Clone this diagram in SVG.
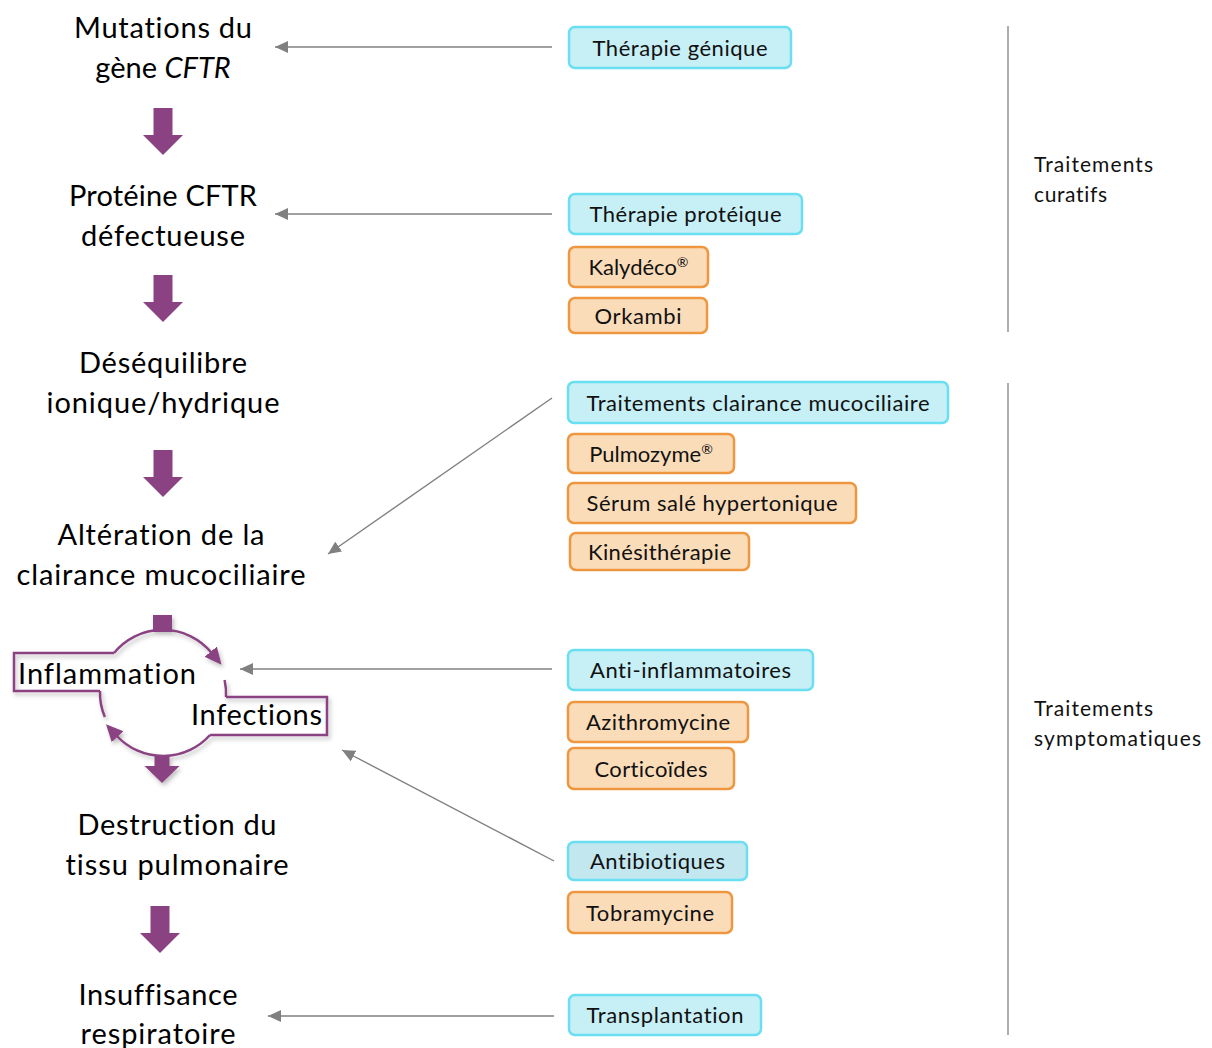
<svg xmlns="http://www.w3.org/2000/svg" width="1212" height="1048" viewBox="0 0 1212 1048">
<style>
text{font-variant-ligatures:none;font-feature-settings:"liga" 0,"dlig" 0}
.main{font-family:Lato,"Liberation Sans",sans-serif;font-size:29px;fill:#000;text-anchor:middle}
.lbl{font-family:Lato,"Liberation Sans",sans-serif;font-size:22px;fill:#111;text-anchor:middle}
.side{font-family:Lato,"Liberation Sans",sans-serif;font-size:21px;fill:#111}
.cyan{fill:#C6EFF6;stroke:#6ADFF2;stroke-width:2.5}
.cyan2{fill:#C3E7EF;stroke:#6ADFF2;stroke-width:2.5}
.orange{fill:#FADCB9;stroke:#EF9640;stroke-width:2.5}
.conn{stroke:#808080;stroke-width:1.4;fill:none;marker-end:url(#gray)}
.cyc{stroke:#8B4282;stroke-width:2.5;fill:none}
.block{fill:#8B4282}
.vline{stroke:#8A8A8A;stroke-width:1.4}
</style>
<defs>
<marker id="gray" markerUnits="userSpaceOnUse" markerWidth="14" markerHeight="12" refX="13" refY="6" orient="auto">
<path d="M0,0 L13,6 L0,12 Z" fill="#808080"/>
</marker>
<marker id="purp" markerUnits="userSpaceOnUse" markerWidth="18" markerHeight="18" refX="1" refY="9" orient="auto">
<path d="M0,1 L17,9 L0,17 Z" fill="#8B4282"/>
</marker>
<path id="barrow" d="M-9.5,0 H9.5 V27 H20 L0,47 L-20,27 H-9.5 Z"/>
<filter id="sh" x="-10%" y="-10%" width="130%" height="130%">
<feDropShadow dx="2" dy="3" stdDeviation="2" flood-color="#000" flood-opacity="0.25"/>
</filter>
</defs>
<rect width="1212" height="1048" fill="#fff"/>

<g id="step-mutations">
<text class="main" x="163" y="38" textLength="178">Mutations du</text>
<text class="main" x="163" y="78">gène <tspan font-style="italic">CFTR</tspan></text>
</g>
<g id="step-proteine">
<text class="main" x="163" y="206" textLength="188">Protéine CFTR</text>
<text class="main" x="163" y="246" textLength="164">défectueuse</text>
</g>
<g id="step-desequilibre">
<text class="main" x="163" y="373" textLength="168">Déséquilibre</text>
<text class="main" x="163" y="413" textLength="233">ionique/hydrique</text>
</g>
<g id="step-alteration">
<text class="main" x="161" y="545" textLength="207">Altération de la</text>
<text class="main" x="161" y="585" textLength="289">clairance mucociliaire</text>
</g>
<g id="step-cycle" filter="url(#sh)">
<rect x="153" y="615" width="19" height="17" class="block"/>
<path class="cyc" d="M114,653 L14,653 L14,691 L100,691"/>
<path class="cyc" d="M226,697 L327,697 L327,735 L210,735"/>
<path class="cyc" d="M114,653 A63,63 0 0,1 211.3,652.5" marker-end="url(#purp)"/>
<path class="cyc" d="M224.6,680 A63,63 0 0,1 226,697"/>
<path class="cyc" d="M210,735 A63,63 0 0,1 116.9,736" marker-end="url(#purp)"/>
<path class="cyc" d="M104.8,717 A63,63 0 0,1 100,691"/>
<path class="block" d="M154.5,755 H169.5 V766 H179.5 L162,783 L144.5,766 H154.5 Z"/>
</g>
<g id="label-inflammation">
<text class="main" x="18" y="684" style="text-anchor:start" textLength="178">Inflammation</text>
</g>
<g id="label-infections">
<text class="main" x="191" y="725" style="text-anchor:start" textLength="131">Infections</text>
</g>
<g id="step-destruction">
<text class="main" x="177" y="835" textLength="199">Destruction du</text>
<text class="main" x="177" y="875" textLength="223">tissu pulmonaire</text>
</g>
<g id="step-insuffisance">
<text class="main" x="158" y="1005" textLength="159">Insuffisance</text>
<text class="main" x="158" y="1044" textLength="155">respiratoire</text>
</g>

<g id="flow-arrows">
<use href="#barrow" class="block" x="163" y="108"/>
<use href="#barrow" class="block" x="163" y="275"/>
<use href="#barrow" class="block" x="163" y="450"/>
<use href="#barrow" class="block" x="160" y="906"/>
</g>

<g id="connectors">
<path class="conn" d="M552,47 L275,47"/>
<path class="conn" d="M552,214 L275,214"/>
<path class="conn" d="M552,398 L328,554"/>
<path class="conn" d="M552,669 L240,669"/>
<path class="conn" d="M554,861 L342,750"/>
<path class="conn" d="M554,1016 L268,1016"/>
</g>

<g id="t-genique"><rect class="cyan" x="569" y="27" width="222" height="41" rx="6"/><text class="lbl" x="680" y="56" textLength="175">Thérapie génique</text></g>
<g id="t-proteique"><rect class="cyan" x="569" y="194" width="233" height="40" rx="6"/><text class="lbl" x="685.5" y="222" textLength="192">Thérapie protéique</text></g>
<g id="t-kalydeco"><rect class="orange" x="569" y="247" width="139" height="40" rx="6"/><text class="lbl" x="638.5" y="275">Kalydéco<tspan font-size="14" dy="-8">®</tspan></text></g>
<g id="t-orkambi"><rect class="orange" x="569" y="298" width="138" height="35" rx="6"/><text class="lbl" x="638" y="324" textLength="87">Orkambi</text></g>
<g id="t-clairance"><rect class="cyan" x="568" y="382" width="380" height="41" rx="6"/><text class="lbl" x="758" y="411" textLength="343">Traitements clairance mucociliaire</text></g>
<g id="t-pulmozyme"><rect class="orange" x="568" y="434" width="166" height="39" rx="6"/><text class="lbl" x="651" y="462">Pulmozyme<tspan font-size="14" dy="-8">®</tspan></text></g>
<g id="t-serum"><rect class="orange" x="568" y="483" width="288" height="40" rx="6"/><text class="lbl" x="712" y="511" textLength="251">Sérum salé hypertonique</text></g>
<g id="t-kine"><rect class="orange" x="570" y="533" width="179" height="37" rx="6"/><text class="lbl" x="659.5" y="560" textLength="143">Kinésithérapie</text></g>
<g id="t-antiinfl"><rect class="cyan" x="568" y="650" width="245" height="40" rx="6"/><text class="lbl" x="690.5" y="678" textLength="201">Anti-inflammatoires</text></g>
<g id="t-azithro"><rect class="orange" x="568" y="702" width="180" height="40" rx="6"/><text class="lbl" x="658" y="730" textLength="144">Azithromycine</text></g>
<g id="t-cortico"><rect class="orange" x="568" y="748" width="166" height="41" rx="6"/><text class="lbl" x="651" y="777" textLength="113">Corticoïdes</text></g>
<g id="t-antibio"><rect class="cyan2" x="568" y="842" width="179" height="38" rx="6"/><text class="lbl" x="657.5" y="869" textLength="135">Antibiotiques</text></g>
<g id="t-tobra"><rect class="orange" x="568" y="892" width="164" height="41" rx="6"/><text class="lbl" x="650" y="921" textLength="128">Tobramycine</text></g>
<g id="t-transpl"><rect class="cyan" x="569" y="995" width="192" height="40" rx="6"/><text class="lbl" x="665" y="1023" textLength="157">Transplantation</text></g>

<g id="group-curatifs">
<line class="vline" x1="1008" y1="26" x2="1008" y2="332"/>
<text class="side" x="1034" y="172" textLength="119">Traitements</text>
<text class="side" x="1034" y="202" textLength="73">curatifs</text>
</g>
<g id="group-symptomatiques">
<line class="vline" x1="1008" y1="383" x2="1008" y2="1035"/>
<text class="side" x="1034" y="716" textLength="119">Traitements</text>
<text class="side" x="1034" y="746" textLength="167">symptomatiques</text>
</g>
</svg>
